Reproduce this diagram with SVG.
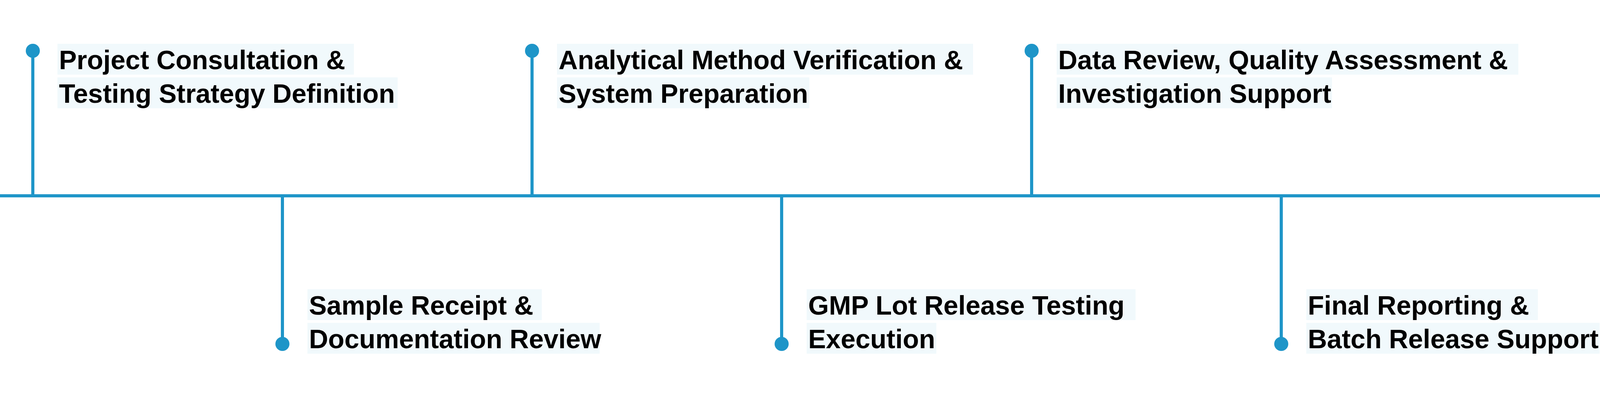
<svg xmlns="http://www.w3.org/2000/svg" width="4516" height="1067" viewBox="0 0 4516 1067">
<style>
.bg{fill:#F1F9FC}
.t{font-family:"Liberation Sans",Arial,sans-serif;font-weight:bold;font-size:68px;fill:#000;white-space:pre}
.ln{stroke:#1E95C8;stroke-width:8;fill:none}
.dot{fill:#1E95C8}
</style>
<rect width="4516" height="1067" fill="#fff"/>
<g id="connectors">
<line class="ln" x1="0" y1="501" x2="4511" y2="501" stroke-width="10"/>
<polyline class="ln" points="4457,462 4511,501 4457,540" stroke-width="10" stroke-linejoin="miter"/>
<line class="ln" x1="84" y1="130" x2="84" y2="501"/>
<line class="ln" x1="723" y1="501" x2="723" y2="880"/>
<line class="ln" x1="1362" y1="130" x2="1362" y2="501"/>
<line class="ln" x1="2001" y1="501" x2="2001" y2="880"/>
<line class="ln" x1="2641" y1="130" x2="2641" y2="501"/>
<line class="ln" x1="3280" y1="501" x2="3280" y2="880"/>
</g>
<g id="n1">
<circle class="dot" cx="84" cy="130" r="18"/>
<rect class="bg" x="147" y="112" width="759" height="79"/>
<rect class="bg" x="147" y="198" width="871" height="79"/>
<text class="t" x="151" y="177">Project Consultation &amp; </text>
<text class="t" x="151" y="263">Testing Strategy Definition</text>
</g>
<g id="n2">
<circle class="dot" cx="723" cy="880" r="18"/>
<rect class="bg" x="787" y="740" width="600" height="79"/>
<rect class="bg" x="787" y="826" width="748" height="79"/>
<text class="t" x="791" y="805">Sample Receipt &amp; </text>
<text class="t" x="791" y="891">Documentation Review</text>
</g>
<g id="n3">
<circle class="dot" cx="1362" cy="130" r="18"/>
<rect class="bg" x="1426" y="112" width="1065" height="79"/>
<rect class="bg" x="1426" y="198" width="646" height="79"/>
<text class="t" x="1430" y="177">Analytical Method Verification &amp; </text>
<text class="t" x="1430" y="263">System Preparation</text>
</g>
<g id="n4">
<circle class="dot" cx="2001" cy="880" r="18"/>
<rect class="bg" x="2065" y="740" width="842" height="79"/>
<rect class="bg" x="2065" y="826" width="332" height="79"/>
<text class="t" x="2069" y="805">GMP Lot Release Testing </text>
<text class="t" x="2069" y="891">Execution</text>
</g>
<g id="n5">
<circle class="dot" cx="2641" cy="130" r="18"/>
<rect class="bg" x="2705" y="112" width="1182" height="79"/>
<rect class="bg" x="2705" y="198" width="705" height="79"/>
<text class="t" x="2709" y="177">Data Review, Quality Assessment &amp; </text>
<text class="t" x="2709" y="263">Investigation Support</text>
</g>
<g id="n6">
<circle class="dot" cx="3280" cy="880" r="18"/>
<rect class="bg" x="3344" y="740" width="593" height="79"/>
<rect class="bg" x="3344" y="826" width="751" height="79"/>
<text class="t" x="3348" y="805">Final Reporting &amp; </text>
<text class="t" x="3348" y="891">Batch Release Support</text>
</g>
</svg>
